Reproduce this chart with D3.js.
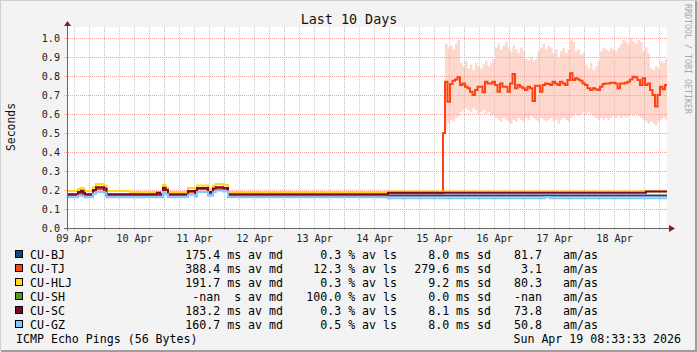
<!DOCTYPE html>
<html>
<head>
<meta charset="utf-8">
<script src="https://cdn.jsdelivr.net/npm/d3@7"></script>
<style>
  html, body { margin: 0; padding: 0; background: #f3f3f3; }
  svg { display: block; }
  text { font-family: "DejaVu Sans Mono", monospace; }
</style>
</head>
<body>
<svg id="chart" width="697" height="352"></svg>
<script>
// ---- data ----
const hosts = ['CU-BJ', 'CU-TJ', 'CU-HLJ', 'CU-SH', 'CU-SC', 'CU-GZ'];
const hostColors = ['#0d4a87', '#ff4214', '#ffd81c', '#4f9a1f', '#7c0a26', '#86c6ff'];
const medAvg = [175.4, 388.4, 191.7, NaN, 183.2, 160.7];
const lossAvg = [0.3, 12.3, 0.3, 100.0, 0.3, 0.5];
const sdAvg = [8.0, 279.6, 9.2, 0.0, 8.1, 8.0];
const amAs = [81.7, 3.1, 80.3, NaN, 73.8, 50.8];

const yTickValues = [0, 0.1, 0.2, 0.3, 0.4, 0.5, 0.6, 0.7, 0.8, 0.9, 1.0];

// step series: hours since graph start -> median seconds
const bjHours = [0, 4.4, 6.5, 7.2, 10.4, 11.6, 14.8, 15.8, 38.4, 40.4, 48.4, 51.2, 52, 56.4, 58.4, 64.4, 128.4, 240];
const bjMed   = [0.172, 0.182, 0.176, 0.172, 0.195, 0.206, 0.2, 0.172, 0.204, 0.172, 0.188, 0.176, 0.205, 0.182, 0.205, 0.173, 0.171, 0.171];

const tjHours = [0, 4.4, 6.5, 7.2, 10.4, 11.6, 14.8, 15.8, 38.4, 40.4, 48.4, 51.2, 52, 56.4, 58.4, 64.4, 128.4, 150.4];
const tjMed   = [0.175, 0.186, 0.18, 0.175, 0.198, 0.21, 0.204, 0.175, 0.208, 0.174, 0.19, 0.178, 0.206, 0.186, 0.206, 0.17, 0.183, 0.5];
// CU-TJ after the jump, one value per hour from hour 151.2
const tjLateStart = 151.2;
const tjLateMed = [
  0.770, 0.665, 0.758, 0.775, 0.782, 0.793, 0.753, 0.761, 0.744, 0.735,
  0.717, 0.700, 0.726, 0.744, 0.744, 0.715, 0.770, 0.761, 0.761, 0.770,
  0.753, 0.717, 0.761, 0.744, 0.744, 0.717, 0.761, 0.811, 0.735, 0.753,
  0.744, 0.735, 0.726, 0.744, 0.735, 0.668, 0.749, 0.749, 0.717, 0.753,
  0.761, 0.758, 0.753, 0.770, 0.761, 0.753, 0.770, 0.761, 0.753, 0.779,
  0.814, 0.779, 0.788, 0.782, 0.775, 0.761, 0.753, 0.735, 0.726, 0.735,
  0.730, 0.726, 0.744, 0.758, 0.761, 0.761, 0.765, 0.765, 0.761, 0.735,
  0.761, 0.761, 0.765, 0.770, 0.782, 0.796, 0.793, 0.779, 0.753, 0.788,
  0.753, 0.761, 0.726, 0.700, 0.640, 0.700, 0.744, 0.730, 0.753];
const tjLateHigh = [
  0.97, 0.95, 0.96, 0.94, 0.97, 0.99,
  0.87, 0.85, 0.88, 0.84, 0.86, 0.83, 0.87, 0.85, 0.84, 0.86, 0.88, 0.85, 0.87, 0.89,
  0.95, 0.97, 0.94, 0.96, 0.98, 0.95, 0.93, 0.96, 0.94, 0.92, 0.95, 0.93,
  0.89, 0.88, 0.90, 0.88, 0.89,
  0.93, 0.95, 0.97, 0.94, 0.96, 0.95,
  0.92, 0.94, 0.90, 0.93, 0.95, 0.92, 0.94,
  0.99, 0.98,
  0.93, 0.94, 0.91, 0.92,
  0.86, 0.84, 0.87, 0.83, 0.85, 0.88,
  0.93, 0.95, 0.94, 0.93, 0.95, 0.94, 0.93, 0.95,
  0.97, 0.99, 0.98, 0.97, 1.0, 0.98, 0.97, 0.99, 0.98,
  0.93, 0.95, 0.92,
  0.84, 0.83, 0.85, 0.84,
  0.88, 0.87, 0.89];
const tjLateLow = [
  0.52, 0.55, 0.57, 0.56, 0.58, 0.59,
  0.61, 0.62, 0.63, 0.62, 0.61, 0.63, 0.62, 0.60, 0.61, 0.62, 0.60, 0.61, 0.59, 0.60, 0.58,
  0.57, 0.56, 0.58, 0.57, 0.56, 0.55, 0.57, 0.56, 0.58, 0.57, 0.56, 0.58, 0.57, 0.59,
  0.58, 0.57, 0.56, 0.58, 0.57, 0.56, 0.57, 0.58, 0.56, 0.57, 0.55, 0.57, 0.58, 0.57, 0.56,
  0.58, 0.59, 0.60, 0.59, 0.60, 0.61, 0.60, 0.61, 0.60, 0.59, 0.58, 0.57,
  0.58, 0.57, 0.58, 0.57, 0.58, 0.59, 0.58, 0.59, 0.58, 0.59, 0.58,
  0.59, 0.60, 0.59, 0.60, 0.59, 0.58, 0.57, 0.56,
  0.55, 0.56, 0.55, 0.54, 0.56, 0.57, 0.58, 0.57];

const hljHours = [0, 4.4, 5.5, 6.5, 7.2, 10.4, 11.6, 14.8, 15.8, 25.2, 38.4, 39.4, 40.4, 48.4, 51.2, 52, 56.4, 58.4, 59.5, 62.5, 64.4, 128.4, 240];
const hljMed   = [0.195, 0.205, 0.212, 0.204, 0.195, 0.215, 0.232, 0.224, 0.195, 0.19, 0.226, 0.212, 0.19, 0.21, 0.2, 0.224, 0.202, 0.222, 0.232, 0.226, 0.19, 0.192, 0.192];

const shHours = [];
const shMed = [];

const scHours = [0, 4.4, 5.5, 6.5, 7.2, 10.4, 11.6, 14.8, 15.8, 36, 37.2, 38.4, 39.4, 40.4, 48.4, 51.2, 52, 56.4, 58.4, 59.5, 62.5, 64.4, 128.4, 231.6, 240];
const scMed   = [0.178, 0.19, 0.196, 0.186, 0.178, 0.2, 0.214, 0.208, 0.178, 0.186, 0.178, 0.212, 0.2, 0.177, 0.195, 0.182, 0.21, 0.19, 0.208, 0.215, 0.21, 0.178, 0.185, 0.192, 0.192];

const gzHours = [0, 4.4, 6.5, 7.2, 10.4, 11.6, 14.8, 15.8, 38.4, 39.4, 40.4, 48.4, 51.2, 52, 56.4, 58.4, 59.5, 62.5, 64.4, 128.4, 191.2, 193.2, 240];
const gzMed   = [0.162, 0.17, 0.166, 0.162, 0.18, 0.19, 0.186, 0.162, 0.19, 0.178, 0.162, 0.175, 0.166, 0.19, 0.17, 0.188, 0.197, 0.192, 0.162, 0.157, 0.163, 0.157, 0.157];

// ---- layout ----
const HOUR = 3600e3;
const t0 = Date.UTC(2026, 3, 9, 9, 10);
const t1 = t0 + 240 * HOUR;
const plot = { left: 67, right: 667, top: 27, bottom: 228 };

const svg = d3.select('#chart');
const x = d3.scaleUtc().domain([t0, t1]).range([plot.left, plot.right]);
const y = d3.scaleLinear().domain([0, 1]).range([plot.bottom, 38]);
const at = h => t0 + h * HOUR;

// background and 3d frame
svg.append('rect').attr('width', 697).attr('height', 352).attr('fill', '#f3f3f3');
svg.append('path').attr('d', 'M0,351V0H697').attr('fill', 'none').attr('stroke', '#cfcfcf').attr('stroke-width', 2);
svg.append('path').attr('d', 'M1,351H696V1').attr('fill', 'none').attr('stroke', '#9e9e9e').attr('stroke-width', 2);
svg.append('rect')
    .attr('x', plot.left).attr('y', plot.top)
    .attr('width', plot.right - plot.left).attr('height', plot.bottom - plot.top)
    .attr('fill', '#fff');

// smoke of CU-TJ
const tjSmoke = tjLateMed.map((v, i) => ({ h: tjLateStart + i, lo: tjLateLow[i], hi: tjLateHigh[i] }));
tjSmoke.push({ h: 240, lo: tjLateLow[tjLateLow.length - 1], hi: tjLateHigh[tjLateHigh.length - 1] });
svg.append('path')
    .datum(tjSmoke)
    .attr('fill', '#ffd8cd')
    .attr('d', d3.area().curve(d3.curveStepAfter)
        .x(d => x(at(d.h))).y0(d => y(d.lo)).y1(d => y(d.hi)));

// grid
const grid = svg.append('g').attr('shape-rendering', 'crispEdges');
const minorTimes = d3.utcHour.every(6).range(new Date(t0), new Date(t1)).filter(d => d.getUTCHours() !== 0);
const dayTimes = d3.utcDay.range(new Date(t0), new Date(t1));
grid.selectAll('line.minor').data(minorTimes).join('line')
    .attr('x1', d => Math.round(x(d)) + 0.5).attr('x2', d => Math.round(x(d)) + 0.5)
    .attr('y1', plot.top).attr('y2', plot.bottom + 3)
    .attr('stroke', '#c8c8c8').attr('stroke-dasharray', '1,1');
grid.selectAll('line.hgrid').data(yTickValues.slice(1)).join('line')
    .attr('x1', plot.left - 3).attr('x2', plot.right)
    .attr('y1', d => Math.round(y(d)) + 0.5).attr('y2', d => Math.round(y(d)) + 0.5)
    .attr('stroke', '#f4a3a3').attr('stroke-dasharray', '1,1');
grid.selectAll('line.day').data(dayTimes).join('line')
    .attr('x1', d => Math.round(x(d)) + 0.5).attr('x2', d => Math.round(x(d)) + 0.5)
    .attr('y1', plot.top).attr('y2', plot.bottom + 3)
    .attr('stroke', '#f4a3a3').attr('stroke-dasharray', '1,1');

// median lines, drawn in legend order
const seriesHours = [bjHours, tjHours, hljHours, shHours, scHours, gzHours];
const seriesMed = [bjMed, tjMed, hljMed, shMed, scMed, gzMed];
const line = d3.line().curve(d3.curveStepAfter).x(d => x(at(d[0]))).y(d => y(d[1]));

hosts.forEach((host, i) => {
    let pts = seriesHours[i].map((h, j) => [h, seriesMed[i][j]]);
    if (host === 'CU-TJ') {
        tjLateMed.forEach((v, k) => pts.push([tjLateStart + k, v]));
        pts.push([240, tjLateMed[tjLateMed.length - 1]]);
    }
    if (!pts.length) return;
    svg.append('path')
        .datum(pts)
        .attr('fill', 'none')
        .attr('stroke', hostColors[i])
        .attr('stroke-width', 2)
        .attr('d', line);
});

// axes
svg.append('path')
    .attr('d', `M${plot.left - 3},${plot.bottom + 0.5}H${plot.right + 2}M${plot.left + 0.5},${plot.bottom + 3}V${plot.top - 1}`)
    .attr('stroke', '#666').attr('fill', 'none').attr('shape-rendering', 'crispEdges');
svg.append('path').attr('d', `M${plot.left - 3},${plot.top - 1}L${plot.left + 4},${plot.top - 1}L${plot.left + 0.5},${plot.top - 6}Z`).attr('fill', '#8c1c1c');
svg.append('path').attr('d', `M${plot.right + 2},${plot.bottom - 3}L${plot.right + 2},${plot.bottom + 4}L${plot.right + 8},${plot.bottom + 0.5}Z`).attr('fill', '#8c1c1c');

const yAxis = svg.append('g')
    .attr('transform', `translate(${plot.left - 7},0)`)
    .call(d3.axisLeft(y).tickValues(yTickValues).tickFormat(d3.format('.1f')).tickSize(0).tickPadding(0));
yAxis.select('.domain').remove();
yAxis.selectAll('text').attr('font-family', '"DejaVu Sans Mono", monospace').attr('font-size', '10.1px').attr('fill', '#222').attr('dy', '0.36em');

const noonTimes = d3.utcHour.every(12).range(new Date(t0), new Date(t1)).filter(d => d.getUTCHours() === 12);
const xAxis = svg.append('g')
    .attr('transform', `translate(0,${plot.bottom})`)
    .call(d3.axisBottom(x).tickValues(noonTimes).tickFormat(d3.utcFormat('%d %b')).tickSize(0).tickPadding(0));
xAxis.select('.domain').remove();
xAxis.selectAll('text').attr('font-family', '"DejaVu Sans Mono", monospace').attr('font-size', '10.1px').attr('fill', '#222').attr('dy', null).attr('y', 14);

// titles
svg.append('text').attr('x', 349).attr('y', 24).attr('text-anchor', 'middle')
    .attr('font-size', '13.4px').attr('fill', '#111').text('Last 10 Days');
svg.append('text').attr('transform', 'translate(15,127) rotate(-90)').attr('text-anchor', 'middle')
    .attr('font-size', '11.4px').attr('fill', '#111').text('Seconds');
svg.append('text').attr('transform', 'translate(685,4) rotate(90)')
    .attr('font-size', '8.3px').attr('fill', '#a8a8a8').text('RRDTOOL / TOBI OETIKER');

// legend
const fmt = d3.format('.1f');
const legendFont = '11.6px';
const rowY = i => 259 + i * 14;
const legend = svg.append('g').attr('font-size', legendFont).attr('fill', '#000');
hosts.forEach((host, i) => {
    const yy = rowY(i);
    legend.append('rect').attr('x', 15.5).attr('y', yy - 8.5).attr('width', 7).attr('height', 7)
        .attr('fill', hostColors[i]).attr('stroke', '#000').attr('shape-rendering', 'crispEdges');
    legend.append('text').attr('x', 30).attr('y', yy).text(host);
    const med = isNaN(medAvg[i]) ? '-nan  s av md' : `${fmt(medAvg[i])} ms av md`;
    legend.append('text').attr('x', 283).attr('y', yy).attr('text-anchor', 'end').attr('xml:space', 'preserve').text(med);
    legend.append('text').attr('x', 397).attr('y', yy).attr('text-anchor', 'end').text(`${fmt(lossAvg[i])} % av ls`);
    legend.append('text').attr('x', 491).attr('y', yy).attr('text-anchor', 'end').text(`${fmt(sdAvg[i])} ms sd`);
    legend.append('text').attr('x', 542).attr('y', yy).attr('text-anchor', 'end').text(isNaN(amAs[i]) ? '-nan' : fmt(amAs[i]));
    legend.append('text').attr('x', 563).attr('y', yy).text('am/as');
});
legend.append('text').attr('x', 16).attr('y', 343).text('ICMP Echo Pings (56 Bytes)');
legend.append('text').attr('x', 681).attr('y', 343).attr('text-anchor', 'end').text('Sun Apr 19 08:33:33 2026');
</script>
</body>
</html>
